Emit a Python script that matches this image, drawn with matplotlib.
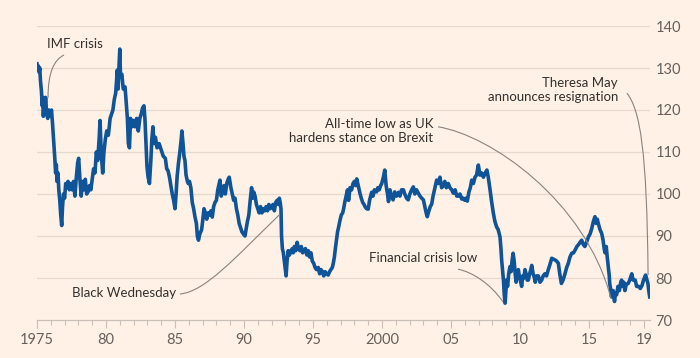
import matplotlib
matplotlib.use("Agg")
import matplotlib.pyplot as plt
from matplotlib.path import Path
from matplotlib.patches import PathPatch
import numpy as np

# Sterling trade-weighted index
anos = [
    1975.00, 1975.05, 1975.10, 1975.15, 1975.20, 1975.25, 1975.32, 1975.38, 1975.42, 1975.46,
    1975.52, 1975.58, 1975.62, 1975.70, 1975.78, 1975.85, 1975.95, 1976.05, 1976.12, 1976.20,
    1976.28, 1976.35, 1976.40, 1976.45, 1976.52, 1976.58, 1976.65, 1976.72, 1976.79, 1976.85,
    1976.92, 1977.00, 1977.08, 1977.15, 1977.25, 1977.35, 1977.45, 1977.55, 1977.65, 1977.75,
    1977.85, 1977.95, 1978.02, 1978.10, 1978.20, 1978.30, 1978.40, 1978.50, 1978.60, 1978.70,
    1978.80, 1978.90, 1978.98, 1979.10, 1979.20, 1979.30, 1979.40, 1979.50, 1979.57, 1979.65,
    1979.76, 1979.85, 1979.95, 1980.05, 1980.17, 1980.30, 1980.40, 1980.50, 1980.60, 1980.70,
    1980.82, 1980.88, 1980.95, 1981.00, 1981.05, 1981.15, 1981.25, 1981.38, 1981.48, 1981.55,
    1981.62, 1981.70, 1981.78, 1981.88, 1982.00, 1982.10, 1982.22, 1982.34, 1982.45, 1982.55,
    1982.65, 1982.75, 1982.82, 1982.90, 1982.97, 1983.05, 1983.15, 1983.25, 1983.32, 1983.40,
    1983.48, 1983.58, 1983.70, 1983.85, 1984.00, 1984.15, 1984.30, 1984.40, 1984.50, 1984.60,
    1984.70, 1984.80, 1984.90, 1985.00, 1985.08, 1985.15, 1985.24, 1985.35, 1985.45, 1985.50,
    1985.58, 1985.65, 1985.72, 1985.80, 1985.90, 1985.96, 1986.05, 1986.15, 1986.25, 1986.35,
    1986.45, 1986.55, 1986.62, 1986.70, 1986.80, 1986.93, 1987.02, 1987.10, 1987.20, 1987.30,
    1987.40, 1987.50, 1987.60, 1987.70, 1987.80, 1987.90, 1988.00, 1988.10, 1988.20, 1988.26,
    1988.35, 1988.45, 1988.55, 1988.65, 1988.75, 1988.85, 1988.93, 1989.05, 1989.15, 1989.25,
    1989.35, 1989.45, 1989.55, 1989.65, 1989.75, 1989.85, 1989.95, 1990.07, 1990.15, 1990.25,
    1990.35, 1990.45, 1990.55, 1990.62, 1990.70, 1990.80, 1990.90, 1991.00, 1991.10, 1991.20,
    1991.30, 1991.40, 1991.50, 1991.60, 1991.70, 1991.80, 1991.90, 1992.00, 1992.10, 1992.20,
    1992.30, 1992.40, 1992.50, 1992.56, 1992.62, 1992.68, 1992.72, 1992.78, 1992.85, 1992.92,
    1992.97, 1993.05, 1993.12, 1993.20, 1993.30, 1993.40, 1993.50, 1993.57, 1993.65, 1993.75,
    1993.85, 1993.95, 1994.05, 1994.15, 1994.25, 1994.35, 1994.45, 1994.55, 1994.66, 1994.75,
    1994.85, 1994.95, 1995.05, 1995.15, 1995.25, 1995.38, 1995.48, 1995.58, 1995.68, 1995.78,
    1995.88, 1995.98, 1996.10, 1996.20, 1996.30, 1996.40, 1996.47, 1996.55, 1996.62, 1996.70,
    1996.78, 1996.85, 1996.96, 1997.05, 1997.15, 1997.22, 1997.30, 1997.40, 1997.50, 1997.58,
    1997.68, 1997.80, 1997.90, 1998.00, 1998.10, 1998.17, 1998.28, 1998.40, 1998.50, 1998.60,
    1998.70, 1998.77, 1998.88, 1999.00, 1999.10, 1999.25, 1999.35, 1999.45, 1999.60, 1999.70,
    1999.80, 1999.90, 1999.98, 2000.10, 2000.20, 2000.30, 2000.40, 2000.47, 2000.58, 2000.68,
    2000.80, 2000.92, 2001.05, 2001.20, 2001.30, 2001.42, 2001.55, 2001.65, 2001.78, 2001.90,
    2002.02, 2002.15, 2002.27, 2002.38, 2002.50, 2002.63, 2002.75, 2002.88, 2003.00, 2003.10,
    2003.20, 2003.28, 2003.40, 2003.50, 2003.60, 2003.70, 2003.80, 2003.90, 2003.96, 2004.08,
    2004.20, 2004.32, 2004.44, 2004.55, 2004.66, 2004.80, 2004.92, 2005.05, 2005.17, 2005.30,
    2005.42, 2005.53, 2005.65, 2005.78, 2005.90, 2006.00, 2006.10, 2006.18, 2006.30, 2006.40,
    2006.50, 2006.62, 2006.74, 2006.85, 2006.98, 2007.10, 2007.22, 2007.35, 2007.48, 2007.60,
    2007.70, 2007.83, 2007.95, 2008.07, 2008.18, 2008.30, 2008.42, 2008.55, 2008.62, 2008.67,
    2008.75, 2008.80, 2008.86, 2008.92, 2008.97, 2009.02, 2009.10, 2009.18, 2009.27, 2009.35,
    2009.42, 2009.50, 2009.58, 2009.65, 2009.72, 2009.80, 2009.88, 2009.95, 2010.05, 2010.12,
    2010.20, 2010.28, 2010.36, 2010.44, 2010.52, 2010.60, 2010.70, 2010.78, 2010.85, 2010.95,
    2011.05, 2011.10, 2011.20, 2011.33, 2011.45, 2011.57, 2011.68, 2011.80, 2011.92, 2012.05,
    2012.15, 2012.30, 2012.42, 2012.54, 2012.66, 2012.78, 2012.88, 2013.00, 2013.12, 2013.26,
    2013.38, 2013.50, 2013.62, 2013.75, 2013.88, 2014.00, 2014.12, 2014.23, 2014.35, 2014.47,
    2014.58, 2014.70, 2014.82, 2014.96, 2015.08, 2015.20, 2015.32, 2015.43, 2015.52, 2015.60,
    2015.67, 2015.80, 2015.92, 2016.02, 2016.10, 2016.16, 2016.25, 2016.32, 2016.40, 2016.47,
    2016.50, 2016.56, 2016.63, 2016.70, 2016.75, 2016.80, 2016.85, 2016.92, 2017.00, 2017.10,
    2017.20, 2017.30, 2017.36, 2017.45, 2017.52, 2017.60, 2017.70, 2017.84, 2017.95, 2018.05,
    2018.10, 2018.20, 2018.35, 2018.45, 2018.60, 2018.72, 2018.85, 2018.95, 2019.10, 2019.20,
    2019.27, 2019.33, 2019.40,
]
indice = [
    131, 130, 130.5, 129, 130, 127, 124.5, 121, 123, 118.5,
    122, 120, 123, 119, 118, 120, 118.5, 120, 117, 113,
    109, 105, 107, 103, 105, 101, 98.5, 95, 92.5, 97,
    100, 99, 102.5, 101.5, 103, 101, 102.5, 101, 103, 99.5,
    104, 107.5, 108.5, 104, 99.5, 103, 101, 103.5, 100, 100.5,
    102, 101, 103, 106, 105, 110, 108, 113, 117.5, 110,
    105, 110, 113, 115, 114, 118, 119, 120, 122.5, 124,
    129.5, 125, 131, 134.5, 128, 128.5, 125, 125.5, 121, 118,
    112, 111, 118, 116, 117.5, 116, 118, 115, 118, 119,
    120.5, 121, 118, 112, 106.5, 104, 102.5, 108, 113, 116,
    112, 113.5, 111, 112, 110.5, 109, 108.5, 106, 105.5, 104,
    102, 100, 98.5, 96.5, 100, 104, 107, 110, 113, 115,
    112, 109, 108, 104.5, 103, 102.5, 103, 101.5, 98, 96.5,
    94.5, 93, 90, 89, 90.5, 91.5, 94, 96.5, 95.5, 94,
    95.5, 95, 96, 94.5, 97, 98, 98.5, 101, 102.5, 103.3,
    99.5, 100.5, 102, 100, 102.5, 103.5, 104, 101.5, 100, 98.5,
    99, 96.5, 95, 93, 92, 91, 90.5, 90, 91.5, 93.5,
    95, 98.5, 101.5, 99, 100.5, 99.5, 97.5, 96.5, 95.5, 97,
    95.5, 96.5, 96, 97, 96, 97.5, 96.5, 97, 97.5, 96,
    98, 98.5, 97.5, 99, 98, 96.5, 90, 87, 86, 84,
    82.5, 80.5, 84, 86.5, 85.5, 86.5, 87, 86, 87.5, 86.5,
    88.5, 87, 86.5, 87.5, 86, 86.5, 87, 85.5, 86.5, 85,
    86, 84, 83.5, 82.5, 82, 82.5, 81, 82, 81.5, 80.5,
    81.5, 81, 80.7, 81.5, 82, 82.5, 83.5, 85, 87, 89,
    91, 92, 93.8, 95, 95.5, 96.5, 98, 99.5, 101, 98.5,
    101.5, 101, 102.5, 103, 102, 103.6, 102, 100.2, 99, 98,
    97.5, 97, 96.5, 96.4, 98.5, 100.4, 99.5, 101, 100.5, 101.5,
    101, 102, 102.5, 104, 105.7, 102, 100, 98.2, 101, 99.5,
    98.6, 100.5, 99.5, 100.4, 99.5, 101, 101, 100, 99, 98.6,
    100, 101, 101.7, 100, 101, 100.2, 99.5, 99, 98.6, 97,
    95.5, 94.6, 96, 97, 97.6, 99.5, 101, 102.5, 103.3, 102.5,
    104, 101.5, 102, 103, 101.5, 102.5, 101.5, 101, 100.2, 101,
    99.5, 99.5, 100, 98.8, 99, 98.5, 99, 98.3, 100.5, 101.5,
    103.3, 102.5, 104, 104.5, 106.9, 104.5, 105, 104, 105, 105.7,
    104, 101, 98, 95.4, 93.5, 92.2, 91.5, 89.8, 87, 84.3,
    81.5, 79.5, 76, 74, 76.5, 79.5, 78, 81, 82.7, 81.5,
    84, 85.9, 84, 81, 79, 81.5, 82, 80.5, 79, 78,
    80.5, 80, 82, 81, 79.5, 79.5, 81, 82, 83, 81,
    80, 79, 80.5, 80.5, 79, 79.5, 80.5, 81, 80.5, 82,
    83, 84.7, 84.5, 84.3, 84, 83.5, 81, 78.7, 79.5, 81,
    82.5, 83.5, 85, 85.9, 86, 86.7, 87.5, 87.9, 88.5, 89,
    88, 87.5, 88.5, 89.8, 90.5, 91.8, 93.5, 94.6, 93, 94,
    93, 91.5, 90.6, 89, 87, 86, 87.5, 85, 82.7, 80.5,
    78.7, 77.5, 75.5, 77, 77, 75.5, 74.4, 76.5, 76, 78,
    77, 79, 79.5, 78, 79, 77, 78.5, 78.7, 79.5, 80.5,
    81, 79.5, 79.5, 78, 78, 77.5, 78.3, 79.5, 80.7, 79.5,
    78.7, 77, 75.5,
]

ticks_mayores = [1975, 1980, 1985, 1990, 1995, 2000, 2005, 2010, 2015, 2019]
etiquetas_x = ["1975", "80", "85", "90", "95", "2000", "05", "10", "15", "19"]
ticks_y = [70, 80, 90, 100, 110, 120, 130, 140]

fondo = "#FFF1E5"
azul = "#0F5499"
gris_texto = "#66605C"
texto_nota = "#33302E"
gris_linea = "#8A837D"

plt.rcParams["font.family"] = ["Lato", "DejaVu Sans"]

fig = plt.figure(figsize=(7, 3.58), dpi=100, facecolor=fondo)
ax = fig.add_axes([37 / 700, 1 - 320 / 358, (650 - 37) / 700, (320 - 26) / 358])
ax.set_facecolor(fondo)

# rejilla horizontal
for v in ticks_y[1:]:
    ax.axhline(v, color="#E6D9CE", lw=0.9, zorder=0)

ax.plot(anos, indice, color=azul, lw=2.6, solid_joinstyle="round", zorder=3)

ax.set_xlim(1975, 1975 + (650 - 37) / 13.8)
ax.set_ylim(70, 140)

for s in ["top", "left", "right"]:
    ax.spines[s].set_visible(False)
ax.spines["bottom"].set_color("#C9BFB6")
ax.spines["bottom"].set_linewidth(0.9)

ax.set_xticks(ticks_mayores)
ax.set_xticklabels(etiquetas_x)
ax.set_xticks(list(range(1975, 2020)), minor=True)
ax.tick_params(axis="x", which="major", length=6, width=0.8, color="#C9BFB6",
               labelsize=10.5, labelcolor=gris_texto, pad=3)
ax.tick_params(axis="x", which="minor", length=3.5, width=0.8, color="#C9BFB6")

ax.yaxis.tick_right()
ax.set_yticks(ticks_y)
ax.tick_params(axis="y", length=0, labelsize=10.5, labelcolor=gris_texto, pad=4)


def guia(p):
    # curva de Bezier cubica para las lineas de anotacion
    cod = [Path.MOVETO, Path.CURVE4, Path.CURVE4, Path.CURVE4]
    ax.add_patch(PathPatch(Path(p, cod), fc="none", ec=gris_linea, lw=0.8, zorder=4))


ax.text(1975.72, 135.7, "IMF crisis", color=texto_nota, fontsize=9.5, va="center", ha="left")
guia([(1976.96, 133.1), (1976.23, 131.9), (1975.80, 129.0), (1975.80, 122.9)])

ax.text(1985.07, 76.4, "Black Wednesday", color=texto_nota, fontsize=9.5, va="center", ha="right")
guia([(1985.36, 76.2), (1987.17, 76.7), (1989.35, 84.8), (1992.61, 95.2)])

ax.text(1999.06, 84.8, "Financial crisis low", color=texto_nota, fontsize=9.5, va="center", ha="left")
guia([(2005.51, 82.1), (2006.52, 81.4), (2007.83, 78.8), (2008.77, 74.3)])

ax.text(2003.70, 115.1, "All-time low as UK\nhardens stance on Brexit", color=texto_nota,
        fontsize=9.5, va="center", ha="right", multialignment="right", linespacing=1.2)
guia([(2004.06, 116.0), (2007.83, 114.0), (2014.71, 98.6), (2016.59, 75.2)])

ax.text(2017.10, 124.8, "Theresa May\nannounces resignation", color=texto_nota,
        fontsize=9.5, va="center", ha="right", multialignment="right", linespacing=1.2)
guia([(2017.75, 124.0), (2018.70, 120.0), (2019.20, 110.5), (2019.28, 80.7)])

fig.savefig("out.png", dpi=100, facecolor=fondo)
